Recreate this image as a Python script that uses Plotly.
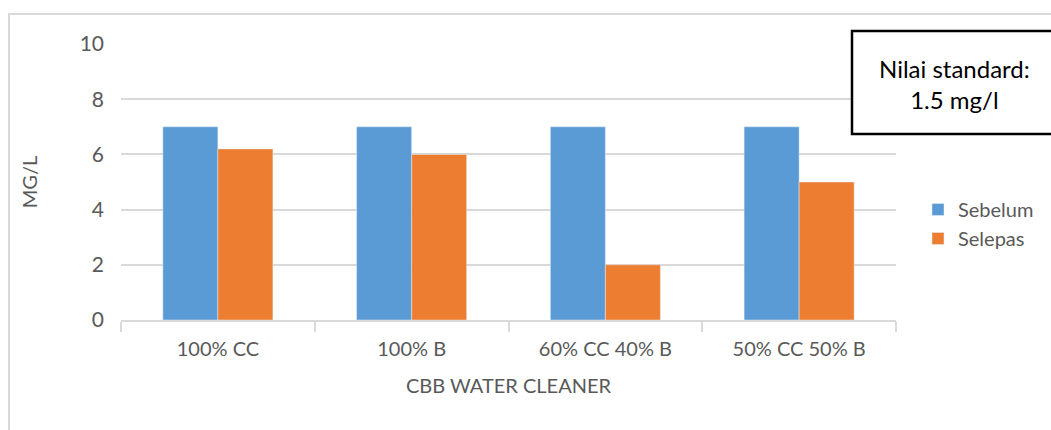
import plotly.graph_objects as go

categories = ["100% CC", "100% B", "60% CC 40% B", "50% CC 50% B"]
sebelum = [7, 7, 7, 7]
selepas = [6.2, 6.0, 2.0, 5.0]
y_ticks = [0, 2, 4, 6, 8, 10]

FONT = "Lato, 'Open Sans', sans-serif"
TXT = "#595959"
GRID = "#D9D9D9"

fig = go.Figure()
fig.add_trace(go.Bar(x=categories, y=sebelum, name="Sebelum", marker_color="#5B9BD5"))
fig.add_trace(go.Bar(x=categories, y=selepas, name="Selepas", marker_color="#ED7D31"))

L, R, T, B = 121, 896, 44, 320
W, H = 1051, 430
pw, ph = R - L, B - T

def px(x):
    return (x - L) / pw

def py(y):
    return (B - y) / ph

fig.update_layout(
    width=W, height=H,
    margin=dict(l=L, r=W - R, t=T, b=H - B, pad=0, autoexpand=False),
    paper_bgcolor="white", plot_bgcolor="white",
    barmode="group", bargap=0.432, bargroupgap=0,
    font=dict(family=FONT, size=20, color=TXT),
    showlegend=True,
    legend=dict(x=px(918), y=py(190), xanchor="left", yanchor="top",
                font=dict(size=20, color=TXT), itemwidth=30,
                tracegroupgap=12, bgcolor="rgba(0,0,0,0)"),
    xaxis=dict(
        showgrid=False, showline=True, linecolor=GRID, linewidth=2,
        ticks="outside", tickson="boundaries", ticklen=10, tickcolor=GRID, tickwidth=2,
        ticklabelstandoff=10, automargin=False,
        tickfont=dict(size=20, color=TXT),
        title=dict(text="CBB WATER CLEANER", font=dict(size=20, color=TXT), standoff=20),
        fixedrange=True,
    ),
    yaxis=dict(
        range=[0, 10], tickvals=y_ticks, showgrid=True, gridcolor=GRID, gridwidth=1.5,
        zeroline=False, showline=False, ticks="", ticklabelstandoff=16, automargin=False,
        tickfont=dict(size=21, color=TXT),
        title=dict(text="MG/L", font=dict(size=20, color=TXT), standoff=36),
        fixedrange=True,
    ),
    shapes=[
        dict(type="rect", xref="paper", yref="paper",
             x0=px(9), x1=px(1070), y0=py(14), y1=py(450),
             line=dict(color=GRID, width=2), fillcolor="rgba(0,0,0,0)", layer="below"),
        dict(type="rect", xref="paper", yref="paper",
             x0=px(852), x1=px(1062), y0=py(31), y1=py(134),
             line=dict(color="black", width=2.5), fillcolor="white", layer="above"),
    ],
    annotations=[
        dict(xref="paper", yref="paper", x=px(954), y=py(84),
             text="Nilai standard:<br>1.5 mg/l", showarrow=False,
             xanchor="center", yanchor="middle", align="center",
             font=dict(size=24, color="black", family=FONT)),
    ],
)

fig.write_html("out.html")
